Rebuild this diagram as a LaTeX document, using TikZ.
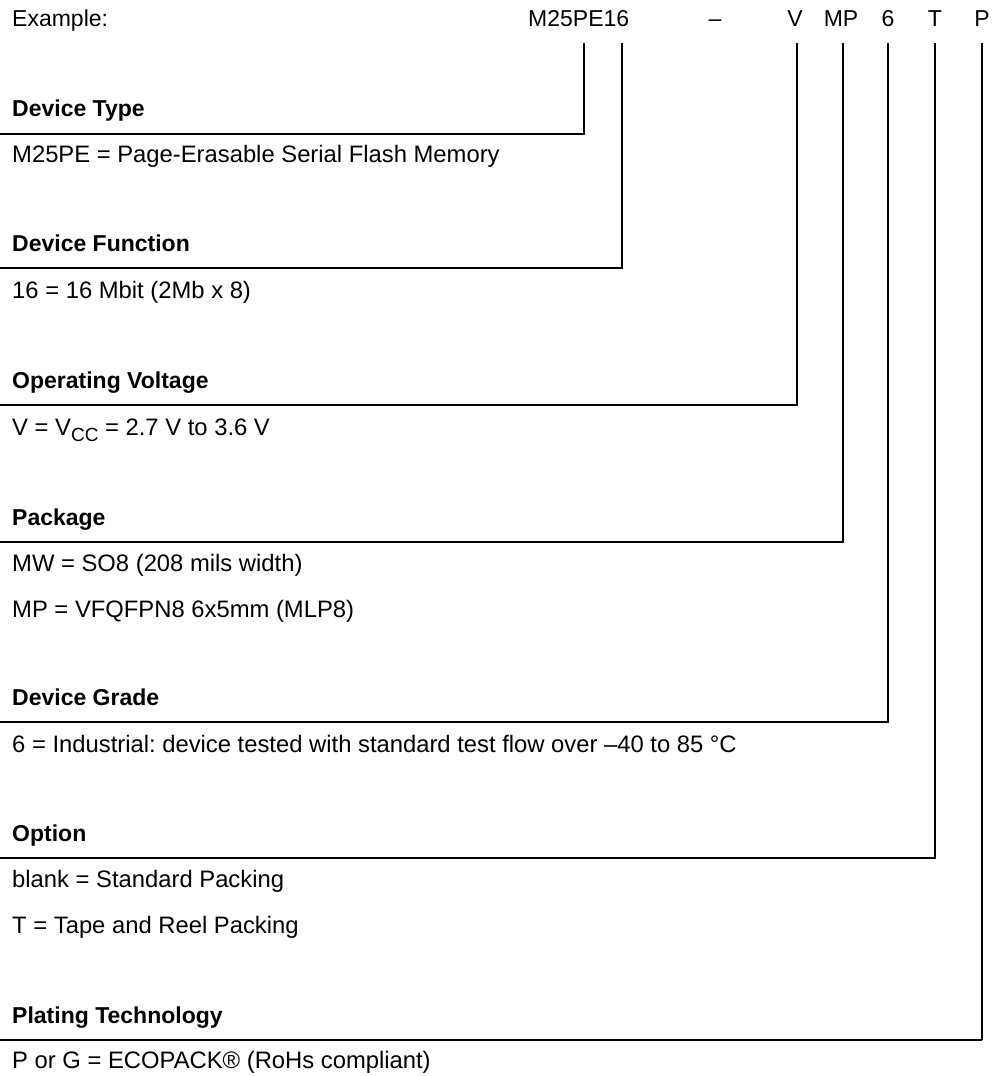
\documentclass[tikz,border=0pt]{standalone}
\usepackage{fontspec}
\setmainfont{Liberation Sans}
\frenchspacing
\begin{document}
\begin{tikzpicture}[x=1pt,y=-1pt,
  txt/.style={anchor=base west,inner sep=0pt,font=\fontsize{23}{27}\selectfont},
  desc/.style={anchor=base west,inner sep=0pt,font=\fontsize{23.8}{28}\selectfont},
  hd/.style={txt,font=\fontsize{23}{27}\selectfont\bfseries},
  code/.style={anchor=base,inner sep=0pt,font=\fontsize{23}{27}\selectfont},
  lead/.style={line width=1.9pt,line join=miter},
  tail/.style={line width=1.2pt}]
\useasboundingbox (0,0) rectangle (991,1076);
% header
\node[txt] (ex) at (12,27) {Example:};
\node[txt] (dev) at (528,27) {M25PE16};
\node[code] (dash) at (715,27) {–};
\node[code] (cv) at (795,27) {V};
\node[code] (cmp) at (841,27) {MP};
\node[code] (c6) at (888,27) {6};
\node[code] (cT) at (935,27) {T};
\node[code] (cP) at (982,27) {P};
% tops of leaders
\coordinate (t1) at (584,43);
\coordinate (t2) at (622,43);
\coordinate (t3) at (797,43);
\coordinate (t4) at (843,43);
\coordinate (t5) at (888,43);
\coordinate (t6) at (935,43);
\coordinate (t7) at (982,43);
% left ends
\coordinate (e1) at (0,134);
\coordinate (e2) at (0,268);
\coordinate (e3) at (0,405);
\coordinate (e4) at (0,542);
\coordinate (e5) at (0,722);
\coordinate (e6) at (0,858);
\coordinate (e7) at (0,1040);
\coordinate (m7) at (889,1040);
\coordinate (c7) at (982,1040);
\draw[lead] (t1) |- (e1);
\draw[lead] (t2) |- (e2);
\draw[lead] (t3) |- (e3);
\draw[lead] (t4) |- (e4);
\draw[lead] (t5) |- (e5);
\draw[lead] (t6) |- (e6);
\draw[lead] (t7) -- (c7);
\draw[tail] (c7) -- (m7);
\draw[lead] (m7) -- (e7);
% sections
\node[hd] (h1) at (12,116) {Device Type};
\node[desc] (d1) at (12,162) {M25PE = Page-Erasable Serial Flash Memory};
\node[hd] (h2) at (12,251) {Device Function};
\node[desc] (d2) at (12,298) {16 = 16 Mbit (2Mb x 8)};
\node[hd] (h3) at (12,388) {Operating Voltage};
\node[desc] (d3) at (12,435) {V = V\raisebox{-6pt}{\fontsize{19}{19}\selectfont CC} = 2.7 V to 3.6 V};
\node[hd] (h4) at (12,525) {Package};
\node[desc] (d4a) at (12,571) {MW = SO8 (208 mils width)};
\node[desc] (d4b) at (12,617) {MP = VFQFPN8 6x5mm (MLP8)};
\node[hd] (h5) at (12,705) {Device Grade};
\node[desc] (d5) at (12,752) {6 = Industrial: device tested with standard test flow over –40 to 85 °C};
\node[hd] (h6) at (12,841) {Option};
\node[desc] (d6a) at (12,887) {blank = Standard Packing};
\node[desc] (d6b) at (12,933) {T = Tape and Reel Packing};
\node[hd] (h7) at (12,1023) {Plating Technology};
\node[desc] (d7) at (12,1068) {P or G = ECOPACK® (RoHs compliant)};
\end{tikzpicture}
\end{document}
